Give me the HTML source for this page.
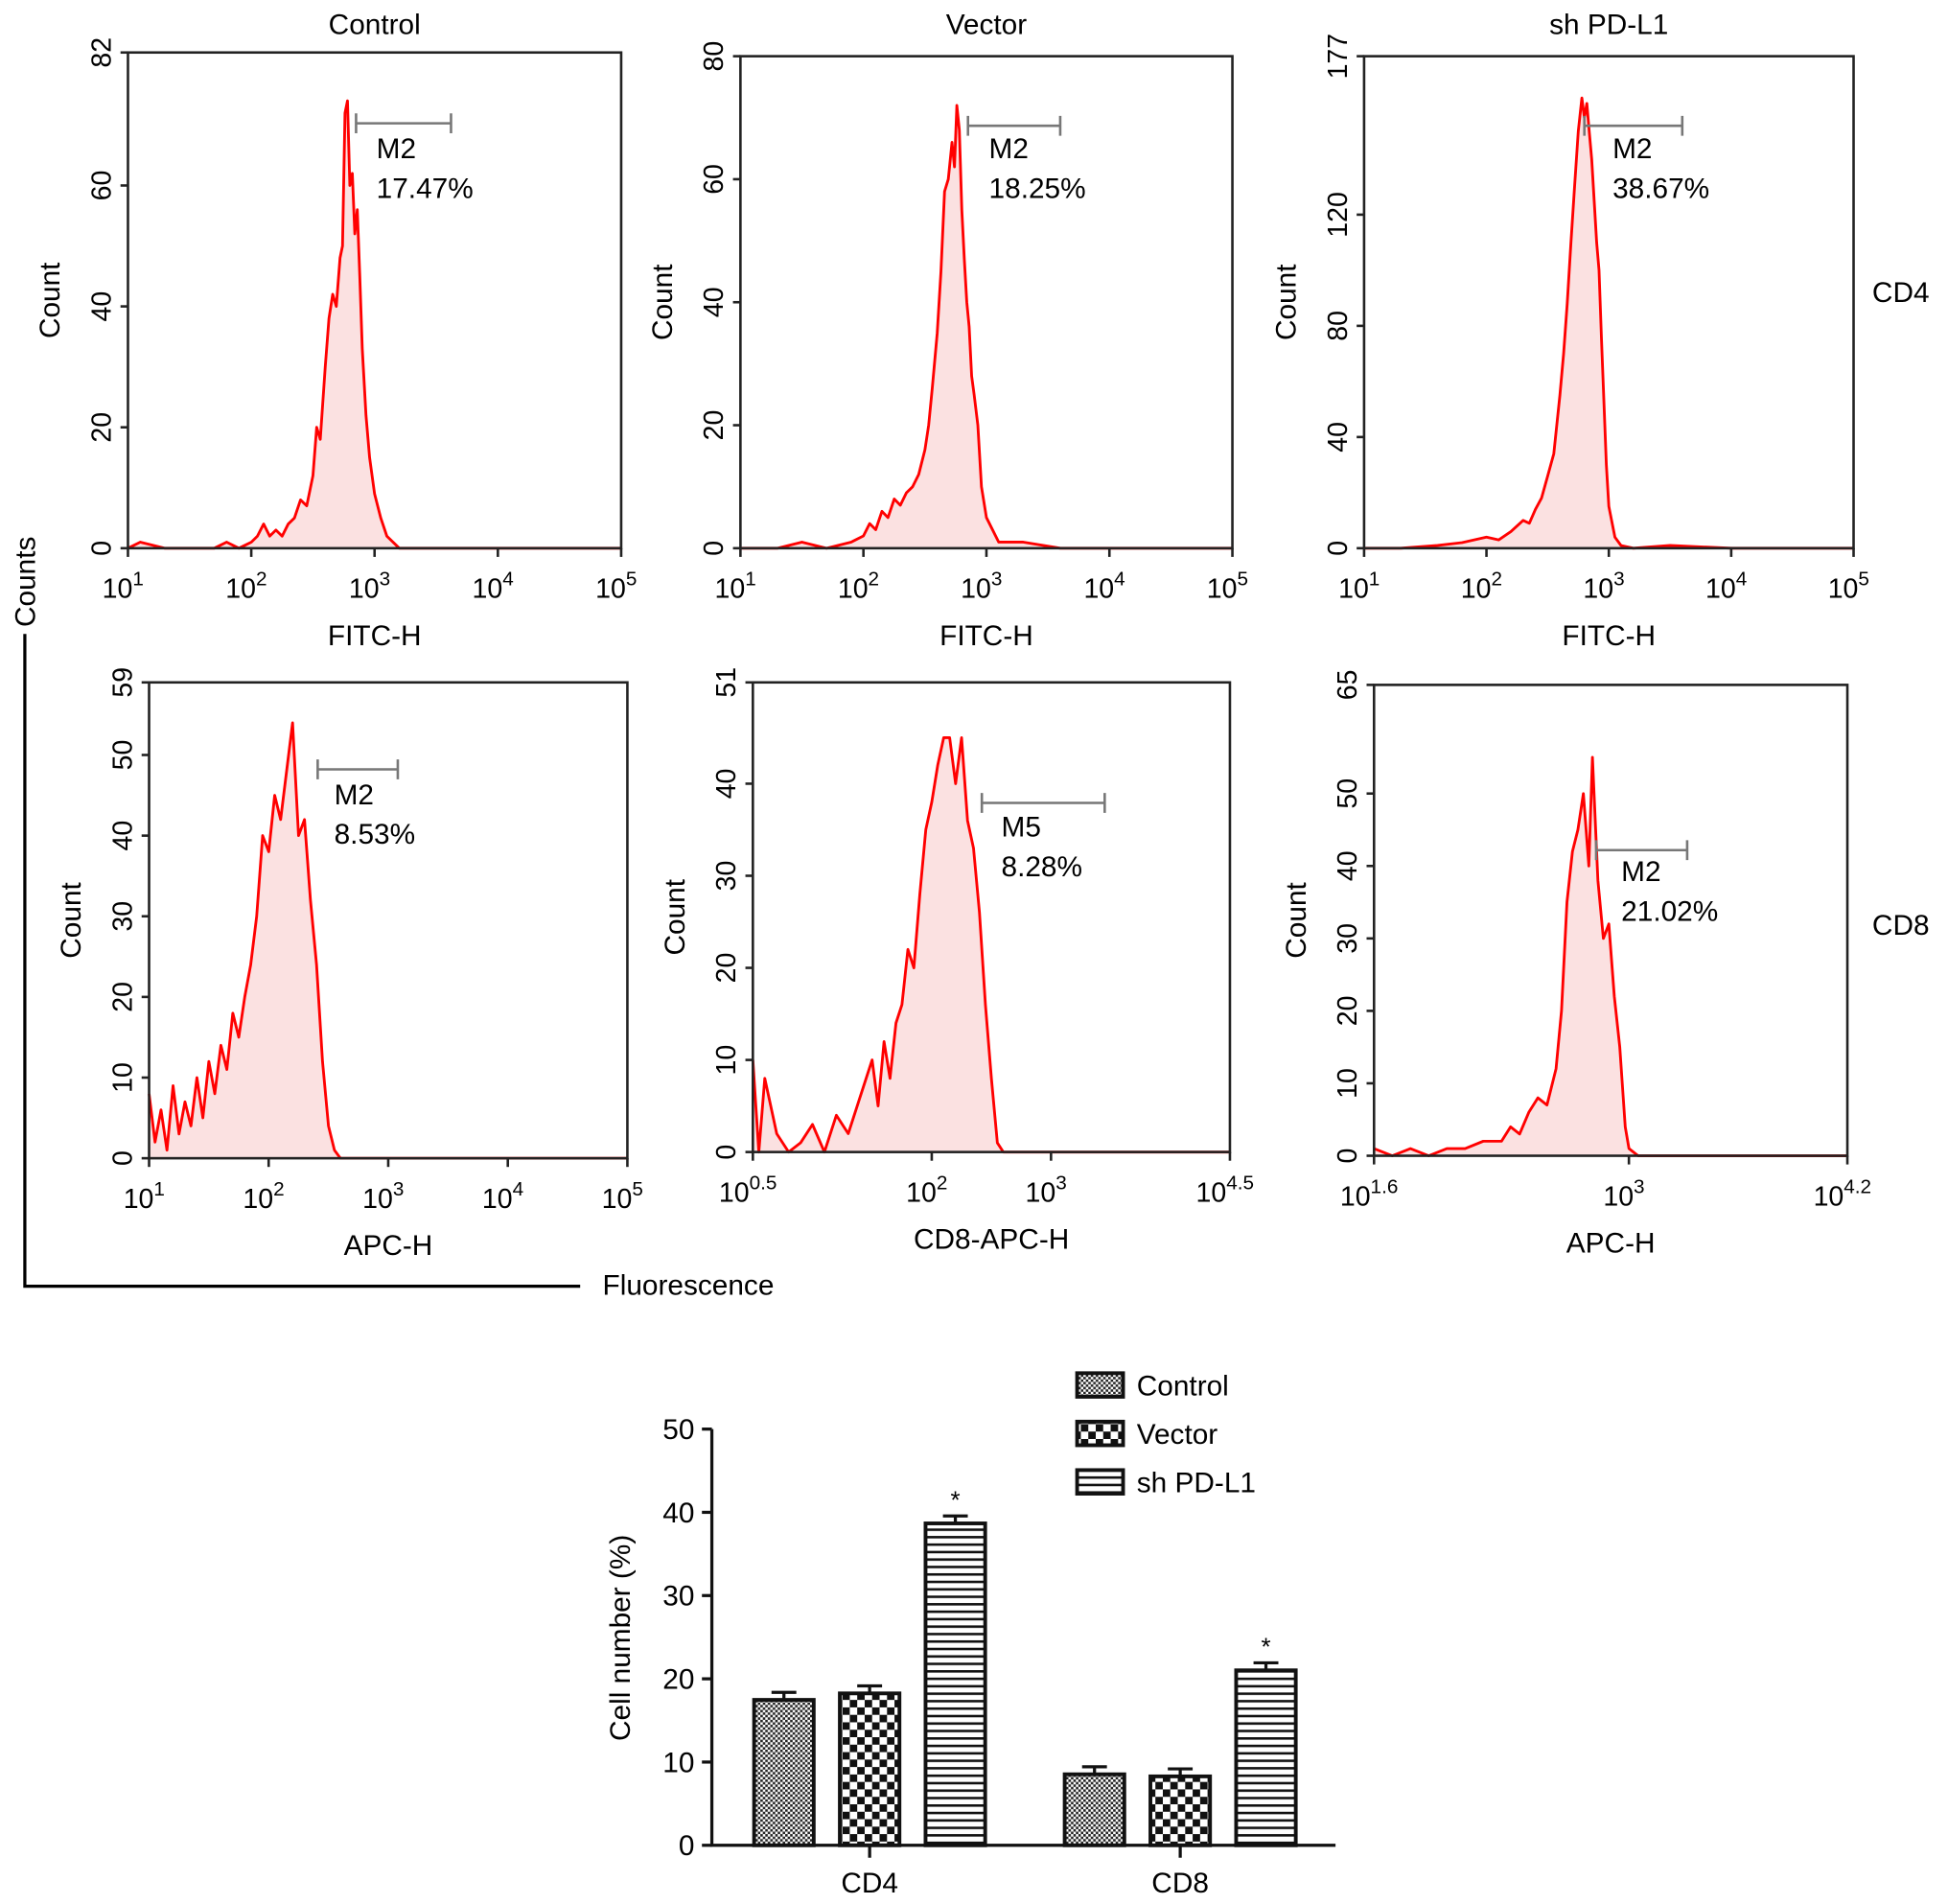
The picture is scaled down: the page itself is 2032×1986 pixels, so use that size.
<!DOCTYPE html>
<html><head><meta charset="utf-8"><style>
html,body{margin:0;padding:0;background:#fff;}
svg{display:block;font-family:"Liberation Sans",Arial,sans-serif;}
</style></head><body>
<svg id="fig" width="2032" height="1986" viewBox="0 0 1568 1532" xmlns="http://www.w3.org/2000/svg">
<defs>
<pattern id="pCtrl" width="4" height="4" patternUnits="userSpaceOnUse"><rect width="4" height="4" fill="#fff"/><rect width="2" height="2" fill="#222"/><rect x="2" y="2" width="2" height="2" fill="#222"/></pattern>
<pattern id="pVec" width="12" height="12" patternUnits="userSpaceOnUse"><rect width="12" height="12" fill="#fff"/><rect width="6" height="6" fill="#111"/><rect x="6" y="6" width="6" height="6" fill="#111"/></pattern>
<pattern id="pSh" width="6" height="6" patternUnits="userSpaceOnUse"><rect width="6" height="6" fill="#fff"/><rect y="0" width="6" height="2" fill="#111"/></pattern>
</defs>
<g id="hists"></g>
<g id="bars"></g>
<text x="28" y="468" font-size="23" transform="rotate(-90 28 468)" text-anchor="middle">Counts</text>
<polyline points="20,510 20,1035 467,1035" fill="none" stroke="#000" stroke-width="2.5"/>
<text x="485" y="1042" font-size="23">Fluorescence</text>
<text x="1507" y="243" font-size="23">CD4</text>
<text x="1507" y="752" font-size="23">CD8</text>
</svg>
<script>
const NS='http://www.w3.org/2000/svg';
function mk(tag,attrs,parent,text){const e=document.createElementNS(NS,tag);for(const k in attrs)e.setAttribute(k,attrs[k]);if(text!==undefined)e.textContent=text;parent.appendChild(e);return e;}

// ---- histogram data (log10 fluorescence, counts) ----
const h1x=[1.0,1.1,1.3,1.5,1.7,1.8,1.9,2.0,2.05,2.1,2.15,2.2,2.25,2.3,2.35,2.4,2.45,2.5,2.53,2.56,2.6,2.63,2.66,2.69,2.72,2.74,2.76,2.78,2.8,2.82,2.84,2.86,2.88,2.9,2.93,2.96,3.0,3.05,3.1,3.2,3.5,4,5];
const h1y=[0,1,0,0,0,1,0,1,2,4,2,3,2,4,5,8,7,12,20,18,30,38,42,40,48,50,72,74,60,62,52,56,45,33,22,15,9,5,2,0,0,0,0];
const h2x=[1.0,1.3,1.5,1.7,1.9,2.0,2.05,2.1,2.15,2.2,2.25,2.3,2.35,2.4,2.45,2.5,2.53,2.56,2.6,2.63,2.66,2.69,2.72,2.74,2.76,2.78,2.8,2.82,2.84,2.86,2.88,2.9,2.93,2.96,3.0,3.1,3.3,3.6,4,5];
const h2y=[0,0,1,0,1,2,4,3,6,5,8,7,9,10,12,16,20,26,35,45,58,60,66,62,72,68,55,47,40,36,28,25,20,10,5,1,1,0,0,0];
const h3x=[1.0,1.3,1.6,1.8,2.0,2.1,2.2,2.3,2.35,2.4,2.45,2.5,2.55,2.6,2.63,2.66,2.69,2.72,2.75,2.78,2.8,2.82,2.84,2.86,2.88,2.9,2.92,2.94,2.96,2.98,3.0,3.05,3.1,3.2,3.5,4,5];
const h3y=[0,0,1,2,4,3,6,10,9,14,18,26,34,55,70,88,110,130,150,162,155,160,150,140,125,110,100,75,52,30,15,4,1,0,1,0,0];
const h4x=[1.0,1.05,1.1,1.15,1.2,1.25,1.3,1.35,1.4,1.45,1.5,1.55,1.6,1.65,1.7,1.75,1.8,1.85,1.9,1.95,2.0,2.05,2.1,2.15,2.2,2.25,2.3,2.35,2.4,2.45,2.5,2.55,2.6,2.7,3,3.5,4,4.5,5];
const h4y=[8,2,6,1,9,3,7,4,10,5,12,8,14,11,18,15,20,24,30,40,38,45,42,48,54,40,42,32,24,12,4,1,0,0,0,0,0,0,0];
const h5x=[0.5,0.55,0.6,0.7,0.8,0.9,1.0,1.1,1.2,1.3,1.4,1.5,1.55,1.6,1.65,1.7,1.75,1.8,1.85,1.9,1.95,2.0,2.05,2.1,2.15,2.2,2.25,2.3,2.35,2.4,2.45,2.5,2.55,2.6,2.7,3,3.5,4,4.5];
const h5y=[10,0,8,2,0,1,3,0,4,2,6,10,5,12,8,14,16,22,20,28,35,38,42,45,45,40,45,36,33,26,16,8,1,0,0,0,0,0,0];
const h6x=[1.6,1.7,1.8,1.9,2.0,2.1,2.2,2.3,2.35,2.4,2.45,2.5,2.55,2.6,2.63,2.66,2.69,2.72,2.75,2.78,2.8,2.83,2.86,2.89,2.92,2.95,2.98,3.0,3.05,3.1,3.2,3.4,3.6,3.8,4.0,4.2];
const h6y=[1,0,1,0,1,1,2,2,4,3,6,8,7,12,20,35,42,45,50,40,55,38,30,32,22,15,4,1,0,0,0,0,0,0,0,0];

// ---- bar chart data ----
const barGroups=['CD4','CD8'];
const barSeries=['Control','Vector','sh PD-L1'];
const ctrlVals=[17.47,8.53];
const vecVals=[18.25,8.28];
const shVals=[38.67,21.02];
const ctrlErr=[0.9,0.9];
const vecErr=[0.9,0.9];
const shErr=[0.9,0.9];
const barTicks=[0,10,20,30,40,50];

const panels=[
 {name:'cd4-control',title:'Control',x0:103,x1:500,y0:42,y1:441,xmin:1,xmax:5,ymax:82,yt:[0,20,40,60,82],xt:[1,2,3,4,5],xl:['1','2','3','4','5'],xs:h1x,ys:h1y,xlab:'FITC-H',gate:[2.85,3.62,99],gl:['M2','17.47%'],glx:303,gly:127},
 {name:'cd4-vector',title:'Vector',x0:596,x1:992,y0:45,y1:441,xmin:1,xmax:5,ymax:80,yt:[0,20,40,60,80],xt:[1,2,3,4,5],xl:['1','2','3','4','5'],xs:h2x,ys:h2y,xlab:'FITC-H',gate:[2.85,3.6,101],gl:['M2','18.25%'],glx:796,gly:127},
 {name:'cd4-shpdl1',title:'sh PD-L1',x0:1098,x1:1492,y0:45,y1:441,xmin:1,xmax:5,ymax:177,yt:[0,40,80,120,177],xt:[1,2,3,4,5],xl:['1','2','3','4','5'],xs:h3x,ys:h3y,xlab:'FITC-H',gate:[2.8,3.6,101],gl:['M2','38.67%'],glx:1298,gly:127},
 {name:'cd8-control',title:'',x0:120,x1:505,y0:549,y1:932,xmin:1,xmax:5,ymax:59,yt:[0,10,20,30,40,50,59],xt:[1,2,3,4,5],xl:['1','2','3','4','5'],xs:h4x,ys:h4y,xlab:'APC-H',gate:[2.41,3.08,619],gl:['M2','8.53%'],glx:269,gly:647},
 {name:'cd8-vector',title:'',x0:606,x1:990,y0:549,y1:927,xmin:0.5,xmax:4.5,ymax:51,yt:[0,10,20,30,40,51],xt:[0.5,2,3,4.5],xl:['0.5','2','3','4.5'],xs:h5x,ys:h5y,xlab:'CD8-APC-H',gate:[2.42,3.45,646],gl:['M5','8.28%'],glx:806,gly:673},
 {name:'cd8-shpdl1',title:'',x0:1106,x1:1487,y0:551,y1:930,xmin:1.6,xmax:4.2,ymax:65,yt:[0,10,20,30,40,50,65],xt:[1.6,3,4.2],xl:['1.6','3','4.2'],xs:h6x,ys:h6y,xlab:'APC-H',gate:[2.82,3.32,684],gl:['M2','21.02%'],glx:1305,gly:709}
];
const H=document.getElementById('hists');
panels.forEach(p=>{
 const g=mk('g',{},H);
 
 
 const sx=v=>p.x0+(v-p.xmin)/(p.xmax-p.xmin)*(p.x1-p.x0);
 const sy=v=>p.y1-v/p.ymax*(p.y1-p.y0);
 let pts=p.xs.map((x,i)=>sx(x).toFixed(1)+','+sy(p.ys[i]).toFixed(1));
 const fill=mk('polygon',{points:sx(p.xs[0])+','+p.y1+' '+pts.join(' ')+' '+sx(p.xs[p.xs.length-1])+','+p.y1,fill:'#fbe1e1',stroke:'none'},g);
 
 
 const ln=mk('polyline',{points:pts.join(' '),fill:'none',stroke:'#f00','stroke-width':2.2,'stroke-linejoin':'round'},g);
 
 
 const box=mk('rect',{x:p.x0,y:p.y0,width:p.x1-p.x0,height:p.y1-p.y0,fill:'none',stroke:'#222','stroke-width':2},g);
 
 
 p.yt.forEach(t=>{const y=sy(t);mk('line',{x1:p.x0-6,x2:p.x0,y1:y,y2:y,stroke:'#222','stroke-width':2},g);
  const tx=mk('text',{x:p.x0-14,y:y,'font-size':22,'text-anchor':'middle',transform:'rotate(-90 '+(p.x0-14)+' '+y+')'},g,String(t));
  });
 p.xt.forEach((t,i)=>{const x=sx(t);mk('line',{x1:x,x2:x,y1:p.y1,y2:p.y1+7,stroke:'#222','stroke-width':2},g);
  const tx=mk('text',{x:x-4,y:p.y1+40,'font-size':22,'text-anchor':'middle'},g);
  
  mk('tspan',{},tx,'10');mk('tspan',{dy:-10,'font-size':16},tx,p.xl[i]);});
 const yl=mk('text',{x:p.x0-55,y:(p.y0+p.y1)/2,'font-size':23,'text-anchor':'middle',transform:'rotate(-90 '+(p.x0-55)+' '+(p.y0+p.y1)/2+')'},g,'Count');
 
 const xl=mk('text',{x:(p.x0+p.x1)/2,y:p.y1+78,'font-size':23,'text-anchor':'middle'},g,p.xlab);
 
 if(p.title){const t=mk('text',{x:(p.x0+p.x1)/2,y:27,'font-size':23,'text-anchor':'middle'},g,p.title);
  }
 const a=sx(p.gate[0]),b=sx(p.gate[1]),gy=p.gate[2];
 const gate=mk('path',{d:`M${a},${gy}H${b}M${a},${gy-8}V${gy+8}M${b},${gy-8}V${gy+8}`,stroke:'#777','stroke-width':2,fill:'none'},g);
 
 const g1=mk('text',{x:p.glx,y:p.gly,'font-size':23},g,p.gl[0]);
 
 const g2=mk('text',{x:p.glx,y:p.gly+32,'font-size':23},g,p.gl[1]);
 
});

// ---- bar chart ----
const B=document.getElementById('bars');
const ax0=573,ax1=1075,by0=1485,by50=1150;
const byv=v=>by0-v/50*(by0-by50);
const groupCenter=[700,950];
const offs=[-69,0,69];
const bw=48;
const pats=['url(#pCtrl)','url(#pVec)','url(#pSh)'];
const vals=[ctrlVals,vecVals,shVals];
const errs=[ctrlErr,vecErr,shErr];
const axis=mk('path',{d:`M${ax0},${by50}V${by0}H${ax1}`,stroke:'#111','stroke-width':2.5,fill:'none'},B);

barTicks.forEach(t=>{const y=byv(t);mk('line',{x1:ax0-8,x2:ax0,y1:y,y2:y,stroke:'#111','stroke-width':2.5},B);
 const tx=mk('text',{x:ax0-14,y:y+8,'font-size':23,'text-anchor':'end'},B,String(t));
 });
const yt=mk('text',{x:507,y:1318,'font-size':23,'text-anchor':'middle',transform:'rotate(-90 507 1318)'},B,'Cell number (%)');

barGroups.forEach((gname,gi)=>{
 const cx=groupCenter[gi];
 mk('line',{x1:cx,x2:cx,y1:by0,y2:by0+10,stroke:'#111','stroke-width':2.5},B);
 const gl=mk('text',{x:cx,y:by0+38,'font-size':23,'text-anchor':'middle'},B,gname);
 
 barSeries.forEach((s,si)=>{
  const v=vals[si][gi],e=errs[si][gi];const x=cx+offs[si]-bw/2;
  const ey=byv(v+e);
  const el=mk('path',{d:`M${x+bw/2},${byv(v)}V${ey}M${x+bw/2-10},${ey}H${x+bw/2+10}`,stroke:'#111','stroke-width':2.5},B);
  
  const r=mk('rect',{x:x,y:byv(v),width:bw,height:by0-byv(v),fill:pats[si],stroke:'#111','stroke-width':3},B);
  
  
  if(si===2){const st=mk('text',{x:x+bw/2,y:ey-6,'font-size':20,'text-anchor':'middle'},B,'*');
   }
 });
});
barSeries.forEach((s,si)=>{
 const y=1105+si*39;
 const lg=mk('g',{},B);
 
 
 mk('rect',{x:867,y:y,width:37,height:19,fill:pats[si],stroke:'#111','stroke-width':3},lg);
 mk('text',{x:915,y:y+18,'font-size':23},lg,s);
});
</script>
</body></html>
